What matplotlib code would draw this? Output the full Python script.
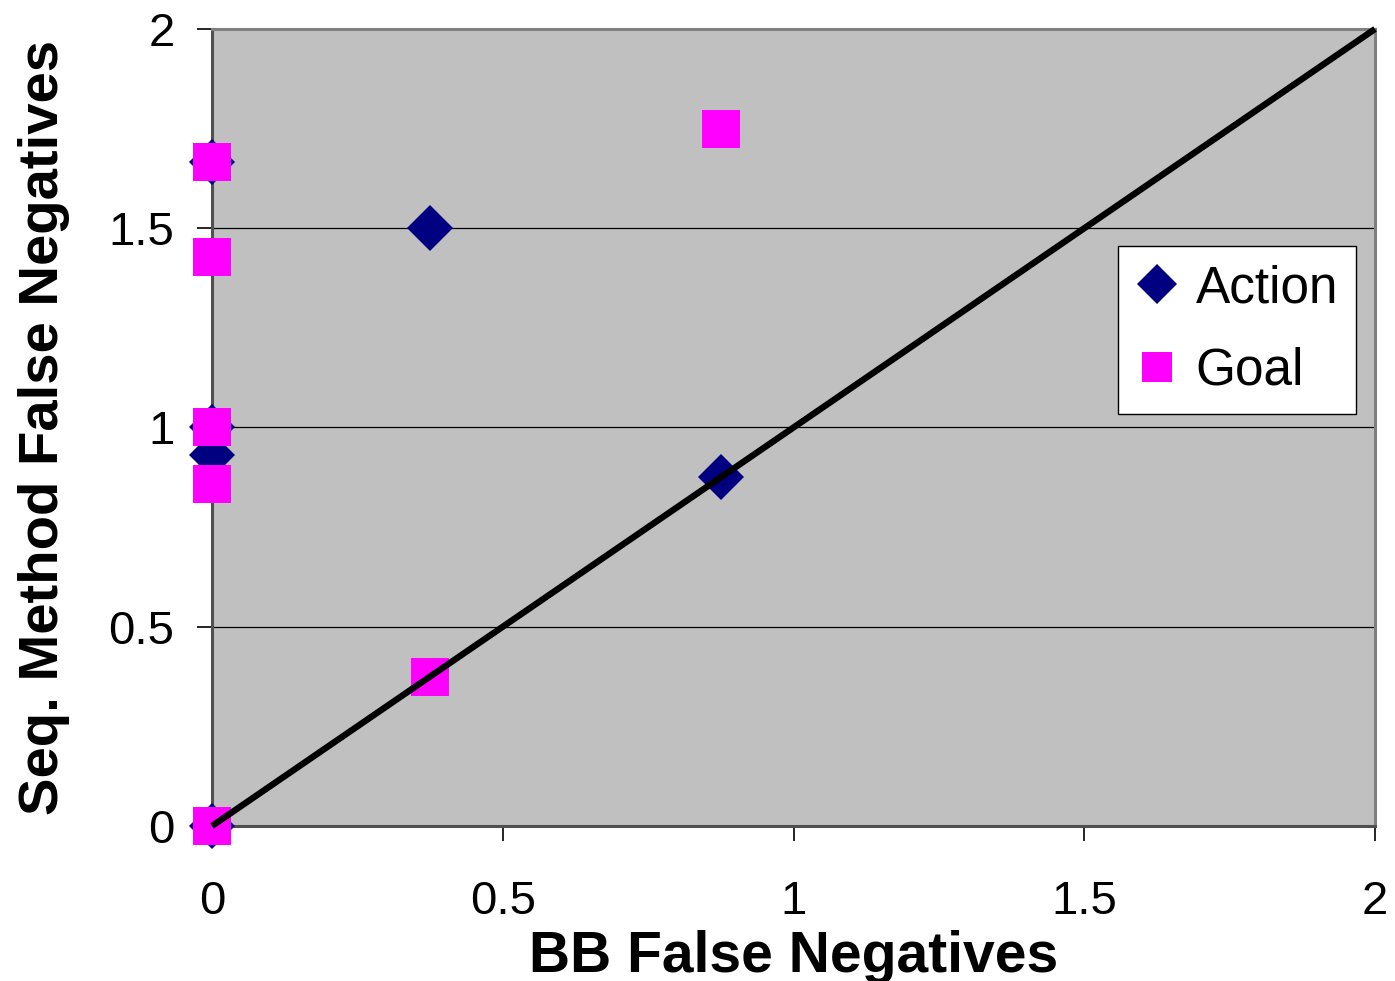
import matplotlib
matplotlib.use("Agg")
import matplotlib.pyplot as plt

# Data
action_x = [0, 0.375, 0, 0, 0.875, 0]
action_y = [1.667, 1.5, 1.0, 0.93, 0.875, 0]
goal_x = [0, 0, 0, 0, 0.875, 0.375, 0]
goal_y = [1.667, 1.4286, 1.0, 0.857, 1.75, 0.375, 0]
diag_x = [0, 2]
diag_y = [0, 2]
x_ticks = [0, 0.5, 1, 1.5, 2]
y_ticks = [0, 0.5, 1, 1.5, 2]
x_ticklabels = ["0", "0.5", "1", "1.5", "2"]
y_ticklabels = ["0", "0.5", "1", "1.5", "2"]

plt.rcParams['font.family'] = ['Liberation Sans', 'DejaVu Sans']

fig = plt.figure(figsize=(13.95, 9.81), dpi=100)
ax = fig.add_axes([212/1395, 1-826/981, (1375-212)/1395, (826-29)/981])
ax.set_facecolor('#C0C0C0')

for v in [0.5, 1, 1.5]:
    ax.axhline(v, color='black', lw=0.9, zorder=1)

ax.plot(action_x, action_y, linestyle='none', marker='D', markersize=23,
        color='#000080', markeredgewidth=0, label='Action', zorder=3, clip_on=False)
ax.plot(goal_x, goal_y, linestyle='none', marker='s', markersize=27,
        color='#FF00FF', markeredgewidth=0, label='Goal', zorder=4, clip_on=False)
ax.plot(diag_x, diag_y, color='black', lw=4.6, zorder=5, clip_on=False,
        solid_capstyle='butt')

ax.set_xlim(0, 2)
ax.set_ylim(0, 2)
ax.set_xticks(x_ticks)
ax.set_xticklabels(x_ticklabels)
ax.set_yticks(y_ticks)
ax.set_yticklabels(y_ticklabels)
ax.tick_params(axis='both', direction='out', length=11, width=1.2,
               labelsize=34, color='black')
ax.tick_params(axis='x', pad=28)
ax.tick_params(axis='y', pad=16)

for s in ['top', 'right']:
    ax.spines[s].set_color('#808080')
    ax.spines[s].set_linewidth(2.2)
for s in ['left', 'bottom']:
    ax.spines[s].set_color('#505050')
    ax.spines[s].set_linewidth(2.2)

ax.set_xlabel('BB False Negatives', fontsize=41, fontweight='bold', labelpad=4)
ax.set_ylabel('Seq. Method False Negatives', fontsize=40.5, fontweight='bold', labelpad=28)

leg = ax.legend(loc='upper right', bbox_to_anchor=(0.9837, 0.7277),
                fontsize=37, frameon=True, fancybox=False, markerscale=1.0,
                handlelength=0.8, handletextpad=0.35, borderpad=0.35,
                labelspacing=0.66, borderaxespad=0)
leg.legend_handles[1].set_markersize(22)
leg.legend_handles[0].set_markersize(20)
leg.get_frame().set_edgecolor('black')
leg.get_frame().set_linewidth(1.0)
leg.get_frame().set_facecolor('white')
leg.get_frame().set_alpha(1)

fig.savefig('out.png', dpi=100)
